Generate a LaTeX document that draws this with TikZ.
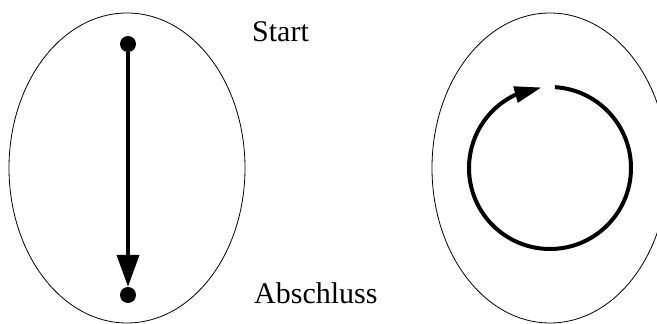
\documentclass[tikz,border=0pt]{standalone}
\usepackage{fontspec}
\setmainfont{Liberation Serif}
\usetikzlibrary{arrows.meta,bending}
\begin{document}
\begin{tikzpicture}[x=1pt,y=1pt,
  outline/.style={draw=black,line width=0.8pt},
  dot/.style={circle,fill=black,inner sep=0pt,minimum size=16pt},
  thick path/.style={line width=4pt},
  lbl/.style={anchor=base west,inner sep=0pt,font=\fontsize{30}{36}\selectfont}]
\path[use as bounding box] (0,0) rectangle (657,324);
\clip (0,0) rectangle (657,324);
% left ellipse
\draw[outline] (127,156) ellipse [x radius=118, y radius=155];
% right ellipse
\draw[outline] (550,156) ellipse [x radius=118, y radius=155];
% start and end dots
\node[dot] (s) at (128,280) {};
\node[dot] (e) at (128,29) {};
\draw[thick path,-{Triangle[length=32pt,width=22pt]}] (s) -- (e);
% labels
\node[lbl] (start) at (252,282.3) {Start};
\node[lbl] (absch) at (254,20.7) {Abschluss};
% circular arrow
\coordinate (c) at (550,156);
\draw[thick path,-{Triangle[length=27pt,width=16pt]}] (c) ++(86.5:81) arc[start angle=86.5,end angle=-264,radius=81];
\end{tikzpicture}
\end{document}
